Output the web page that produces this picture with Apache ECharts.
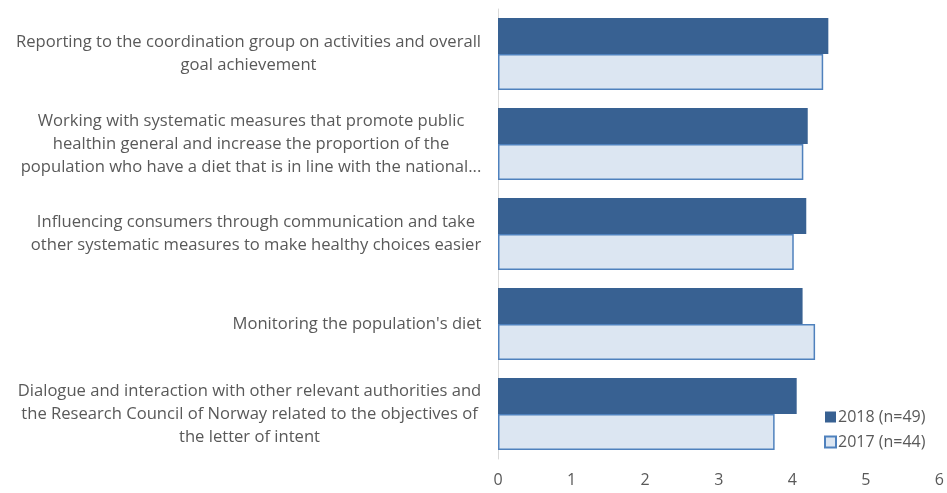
<!DOCTYPE html>
<html>
<head>
<meta charset="utf-8">
<script src="https://cdn.jsdelivr.net/npm/echarts@6/dist/echarts.min.js"></script>
<style>
html,body{margin:0;padding:0;background:#fff;}
#chart{width:947px;height:493px;}
</style>
</head>
<body>
<div id="chart"></div>
<script>
var categories = [
  "Reporting to the coordination group on activities and overall\ngoal achievement",
  "Working with systematic measures that promote public\nhealthin general and increase the proportion of the\npopulation who have a diet that is in line with the national...",
  "Influencing consumers through communication and take\nother systematic measures to make healthy choices easier",
  "Monitoring the population's diet",
  "Dialogue and interaction with other relevant authorities and\nthe Research Council of Norway related to the objectives of\nthe letter of intent"
];
var seriesNames = ["2018 (n=49)", "2017 (n=44)"];
var values2018 = [4.49, 4.21, 4.19, 4.14, 4.06];
var values2017 = [4.42, 4.15, 4.02, 4.31, 3.76];
var xTicks = [0, 1, 2, 3, 4, 5, 6];

var FONT_FAMILY = "Open Sans";
var FONT_SIZE = 16.6;
var cv = document.createElement('canvas').getContext('2d');
cv.font = FONT_SIZE + 'px "' + FONT_FAMILY + '"';
var rich = {};
categories.forEach(function (c, i) {
  var w = 0;
  c.split('\n').forEach(function (l) { w = Math.max(w, cv.measureText(l).width); });
  rich['c' + i] = { width: Math.ceil(w) + 1, align: 'center', fontFamily: FONT_FAMILY, fontSize: FONT_SIZE, color: '#595959', lineHeight: 23 };
});

var chart = echarts.init(document.getElementById('chart'));
chart.setOption({
  animation: false,
  textStyle: { fontFamily: FONT_FAMILY },
  grid: { left: 498, right: 5, top: 9, bottom: 34, containLabel: false },
  legend: {
    orient: 'vertical',
    left: 819,
    top: 404,
    itemWidth: 11,
    itemHeight: 11,
    itemGap: 9,
    icon: 'rect',
    textStyle: { color: '#595959', fontSize: 16, fontFamily: FONT_FAMILY, padding: [0, 0, 0, -3] },
    data: seriesNames
  },
  xAxis: {
    type: 'value',
    min: xTicks[0],
    max: xTicks[xTicks.length - 1],
    interval: 1,
    axisLine: { show: false },
    axisTick: { show: false },
    splitLine: { show: false },
    axisLabel: { color: '#595959', fontSize: 16, margin: 13, fontFamily: FONT_FAMILY }
  },
  yAxis: {
    type: 'category',
    inverse: true,
    data: categories,
    axisLine: { show: true, lineStyle: { color: '#d9d9d9', width: 1 } },
    axisTick: { show: false },
    axisLabel: {
      margin: 16,
      formatter: function (v, idx) {
        return v.split('\n').map(function (l) { return '{c' + idx + '|' + l + '}'; }).join('\n');
      },
      rich: rich
    }
  },
  series: [
    {
      name: seriesNames[0],
      type: 'bar',
      data: values2018,
      barGap: '0%',
      barCategoryGap: '20%',
      itemStyle: { color: '#386192' }
    },
    {
      name: seriesNames[1],
      type: 'bar',
      data: values2017,
      barGap: '0%',
      barCategoryGap: '20%',
      itemStyle: { color: '#DCE6F2', borderColor: '#4F81BD', borderWidth: 1.5 }
    }
  ]
});
</script>
</body>
</html>
